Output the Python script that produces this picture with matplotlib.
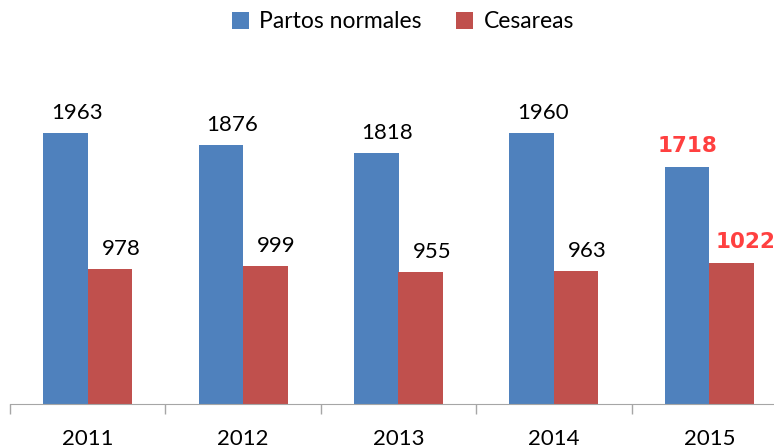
import numpy as np
import matplotlib.pyplot as plt
from matplotlib.ticker import FixedLocator

years = ['2011', '2012', '2013', '2014', '2015']
normales = [1963, 1876, 1818, 1960, 1718]
cesareas = [978, 999, 955, 963, 1022]

plt.rcParams['font.family'] = ['Lato', 'DejaVu Sans']

fig = plt.figure(figsize=(7.74, 4.48), dpi=100)
W, H = 774, 448
# axes: left boundary at x=10, category width ~155.4 px, zero line at y=404
left, right = 10, 10 + 5 * 155.4
bottom = 404
ymax = 2500
top = bottom - ymax * 271 / 1963
ax = fig.add_axes([left / W, (H - bottom) / H, (right - left) / W, (bottom - top) / H])

x = np.arange(len(years))
w = 0.286
b1 = ax.bar(x - w / 2, normales, w, color='#4F81BD', label='Partos normales')
b2 = ax.bar(x + w / 2, cesareas, w, color='#C0504D', label='Cesareas')

for i in range(len(years)):
    hl = i == len(years) - 1
    if hl:
        # last year highlighted in bold red
        kw = dict(color='#FF4040', fontweight='bold', family='DejaVu Sans', fontsize=15.5)
        dx1, dx2 = 0, 10
    else:
        kw = dict(color='black', fontsize=16)
        dx1, dx2 = 8, 8
    ax.annotate(str(normales[i]), (x[i] - w / 2, normales[i]), xytext=(dx1, 7.5),
                textcoords='offset points', ha='center', va='bottom', **kw)
    ax.annotate(str(cesareas[i]), (x[i] + w / 2, cesareas[i]), xytext=(dx2, 7.5),
                textcoords='offset points', ha='center', va='bottom', **kw)

ax.set_xlim(-0.5, len(years) - 0.5)
ax.set_ylim(0, ymax)
ax.set_yticks([])
ax.set_xticks(x)
ax.set_xticklabels(years, fontsize=16)
ax.tick_params(axis='x', which='major', length=0, pad=18)
ax.xaxis.set_minor_locator(FixedLocator(np.arange(-0.5, len(years), 1.0)))
ax.tick_params(axis='x', which='minor', length=7, color='#A6A6A6', width=1)
for s in ['top', 'right', 'left']:
    ax.spines[s].set_visible(False)
ax.spines['bottom'].set_color('#A6A6A6')

fig.legend(handles=[b1, b2], loc='center', bbox_to_anchor=(403 / W, 1 - 22 / H), ncol=2,
           frameon=False, fontsize=16.5, handlelength=0.75, handleheight=0.75,
           handletextpad=0.45, columnspacing=1.5)

fig.savefig('out.png', dpi=100)
